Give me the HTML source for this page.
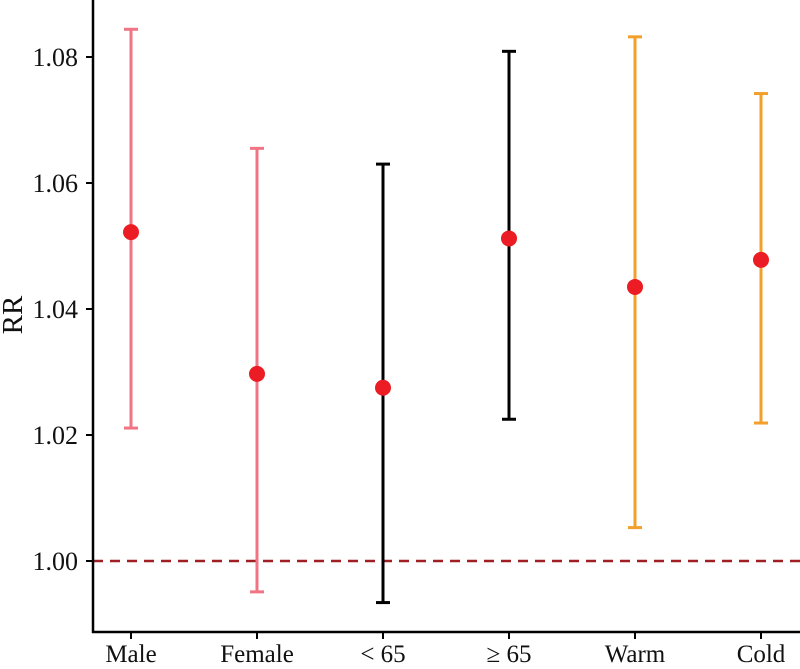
<!DOCTYPE html>
<html><head><meta charset="utf-8"><style>
html,body{margin:0;padding:0;background:#fff}
svg text{font-family:"Liberation Serif",serif;fill:#111}
</style></head><body>
<svg id="chart" width="800" height="664" viewBox="0 0 800 664" xmlns="http://www.w3.org/2000/svg"></svg>
<script>
const categories = ["Male","Female","< 65","\u2265 65","Warm","Cold"];
const estimates = [1.0522,1.0297,1.0275,1.0512,1.0435,1.0478];
const lowers = [1.0211,0.9951,0.9934,1.0225,1.0053,1.0219];
const uppers = [1.0844,1.0655,1.0630,1.0809,1.0832,1.0742];
const groupColors = ["#F07483","#F07483","#000000","#000000","#F2A02B","#F2A02B"];
const yTicks = [1.00,1.02,1.04,1.06,1.08];
const refValue = 1.00;

const NS="http://www.w3.org/2000/svg";
const svg=document.getElementById('chart');
function y(v){return 57+(1.08-v)/0.02*126;}
function x(i){return 131+i*126;}
function mk(t,a,p){const e=document.createElementNS(NS,t);for(const k in a)e.setAttribute(k,a[k]);(p||svg).appendChild(e);return e;}

const ref=mk('line',{x1:93,x2:800,y1:y(refValue),y2:y(refValue),stroke:'#A01F24','stroke-width':2.5,'stroke-dasharray':'10,7'});



const ya=mk('line',{x1:93,x2:93,y1:0,y2:633,stroke:'#000','stroke-width':2.5});


const xa=mk('line',{x1:92,x2:800,y1:632,y2:632,stroke:'#000','stroke-width':2.5});



yTicks.forEach(t=>{
  const tk=mk('line',{x1:86,x2:93,y1:y(t),y2:y(t),stroke:'#000','stroke-width':2});
  
  
  const lb=mk('text',{x:78,y:y(t)+9,'text-anchor':'end','font-size':26});
  lb.textContent=t.toFixed(2);
  
  
});

categories.forEach((c,i)=>{
  const tk=mk('line',{x1:x(i),x2:x(i),y1:632,y2:639,stroke:'#000','stroke-width':2});
  
  
  const lb=mk('text',{x:x(i),y:662,'text-anchor':'middle','font-size':25});
  lb.textContent=c;
  
  
});

const yt=mk('text',{x:0,y:0,'text-anchor':'middle','font-size':29,transform:'translate(22,315) rotate(-90)'});
yt.textContent='RR';



categories.forEach((c,i)=>{
  const g=mk('g',{});
  
  
  const col=groupColors[i];
  mk('line',{x1:x(i),x2:x(i),y1:y(uppers[i]),y2:y(lowers[i]),stroke:col,'stroke-width':3},g);
  mk('line',{x1:x(i)-7,x2:x(i)+7,y1:y(uppers[i]),y2:y(uppers[i]),stroke:col,'stroke-width':3},g);
  mk('line',{x1:x(i)-7,x2:x(i)+7,y1:y(lowers[i]),y2:y(lowers[i]),stroke:col,'stroke-width':3},g);
  const p=mk('circle',{cx:x(i),cy:y(estimates[i]),r:8,fill:'#EC1C24'});
  
  
});
</script>
</body></html>
